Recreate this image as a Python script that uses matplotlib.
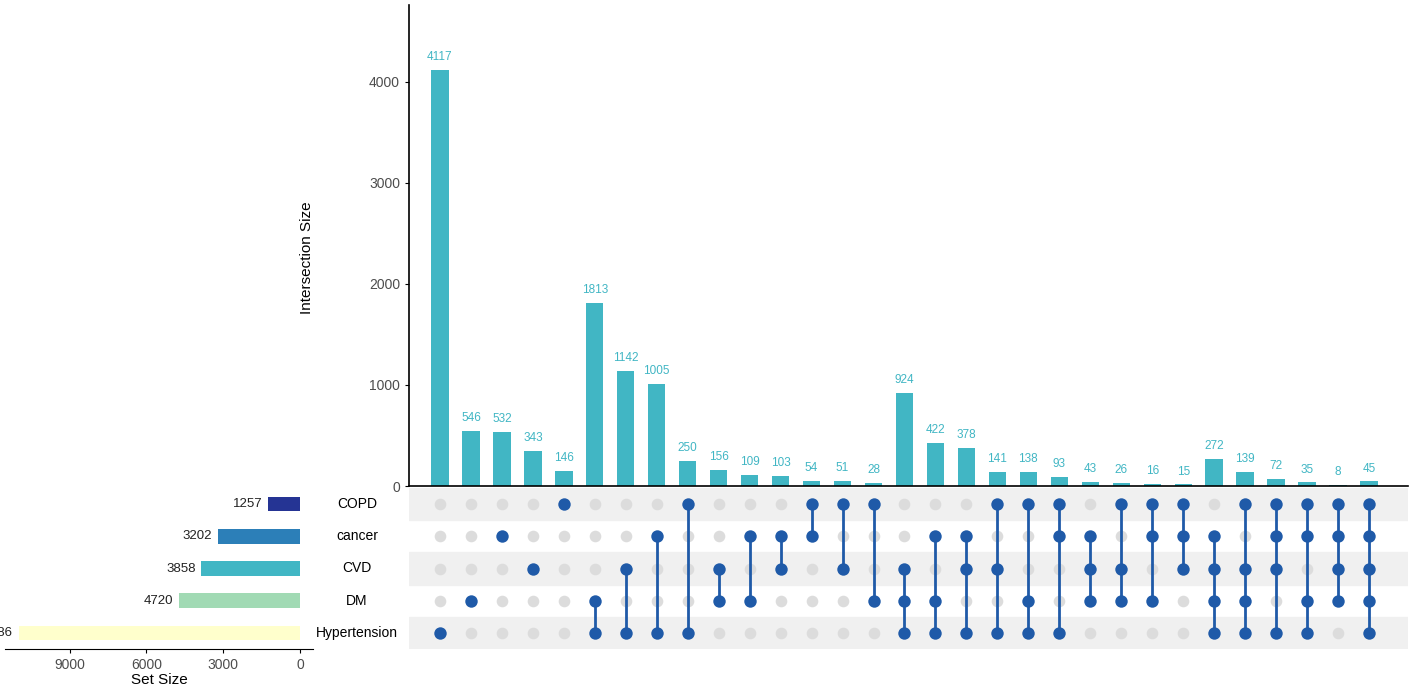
import matplotlib
matplotlib.use('Agg')
import matplotlib.pyplot as plt
from matplotlib.transforms import blended_transform_factory
import numpy as np

plt.rcParams['font.family'] = ['Liberation Sans', 'DejaVu Sans']

# sets, top to bottom in the matrix
set_names = ["COPD", "cancer", "CVD", "DM", "Hypertension"]
set_sizes = [1257, 3202, 3858, 4720, 10986]
set_colors = ["#253494", "#2c7fb8", "#41b6c4", "#a1dab4", "#ffffcc"]

# intersection sizes, left to right
inter_sizes = [4117, 546, 532, 343, 146, 1813, 1142, 1005, 250, 156, 109, 103,
               54, 51, 28, 924, 422, 378, 141, 138, 93, 43, 26, 16, 15,
               272, 139, 72, 35, 8, 45]

# members of each intersection
inter_sets = [
    ["Hypertension"], ["DM"], ["cancer"], ["CVD"], ["COPD"],
    ["DM", "Hypertension"], ["CVD", "Hypertension"], ["cancer", "Hypertension"],
    ["COPD", "Hypertension"], ["CVD", "DM"], ["cancer", "DM"], ["cancer", "CVD"],
    ["COPD", "cancer"], ["COPD", "CVD"], ["COPD", "DM"],
    ["CVD", "DM", "Hypertension"], ["cancer", "DM", "Hypertension"],
    ["cancer", "CVD", "Hypertension"], ["COPD", "CVD", "Hypertension"],
    ["COPD", "DM", "Hypertension"], ["COPD", "cancer", "Hypertension"],
    ["cancer", "CVD", "DM"], ["COPD", "CVD", "DM"], ["COPD", "cancer", "DM"],
    ["COPD", "cancer", "CVD"],
    ["cancer", "CVD", "DM", "Hypertension"], ["COPD", "CVD", "DM", "Hypertension"],
    ["COPD", "cancer", "CVD", "Hypertension"], ["COPD", "cancer", "DM", "Hypertension"],
    ["COPD", "cancer", "CVD", "DM"],
    ["COPD", "cancer", "CVD", "DM", "Hypertension"],
]

BAR_COLOR = "#41b6c4"
DOT_ON = "#1f5aa8"
DOT_OFF = "#dcdcdc"
TICK_COLOR = "#4d4d4d"

W, H = 1417, 697
fig = plt.figure(figsize=(W / 100, H / 100), dpi=100)

def px_axes(x0, y0, x1, y1):
    # pixel box (top-left origin) -> figure axes
    return fig.add_axes([x0 / W, 1 - y1 / H, (x1 - x0) / W, (y1 - y0) / H])

n = len(inter_sizes)
x = np.arange(n)
xlim = (-1.0, 31.26)
nrows = len(set_names)

# intersection bars
ax_bar = px_axes(409, 5, 1408, 486)
ax_bar.bar(x, inter_sizes, width=0.56, color=BAR_COLOR)
for xi, v in zip(x, inter_sizes):
    ax_bar.annotate(str(v), (xi, v), xytext=(0, 5), textcoords="offset points",
                    ha="center", va="bottom", fontsize=8.5, color=BAR_COLOR)
ax_bar.set_xlim(*xlim)
ax_bar.set_ylim(0, 4760)
ax_bar.set_xticks([])
ax_bar.set_yticks([0, 1000, 2000, 3000, 4000])
ax_bar.tick_params(axis="y", labelsize=10, labelcolor=TICK_COLOR, color="black", length=3)
for s in ["top", "right"]:
    ax_bar.spines[s].set_visible(False)
ax_bar.spines["left"].set_linewidth(1.2)
ax_bar.spines["bottom"].set_linewidth(1.2)
fig.text(307 / W, 1 - 258 / H, "Intersection Size", rotation=90,
         ha="center", va="center", fontsize=11)

# matrix
ax_mat = px_axes(409, 488, 1408, 649)
ax_mat.set_xlim(*xlim)
ax_mat.set_ylim(nrows - 0.5, -0.5)
for r in range(nrows):
    if r % 2 == 0:
        ax_mat.axhspan(r - 0.5, r + 0.5, color="#f0f0f0", zorder=0)
for xi, members in zip(x, inter_sets):
    rows = [set_names.index(m) for m in members]
    off = [r for r in range(nrows) if r not in rows]
    ax_mat.scatter([xi] * len(off), off, s=70, color=DOT_OFF, zorder=2, linewidths=0)
    if len(rows) > 1:
        ax_mat.plot([xi, xi], [min(rows), max(rows)], color=DOT_ON, lw=2, zorder=3)
    ax_mat.scatter([xi] * len(rows), rows, s=80, color=DOT_ON, zorder=4, linewidths=0)
ax_mat.axis("off")

# set size bars
ax_set = px_axes(5, 488, 313, 649)
ax_set.barh(np.arange(nrows), set_sizes, height=0.45, color=set_colors)
for r, v in enumerate(set_sizes):
    ax_set.annotate(str(v), (v, r), xytext=(-4, 0), textcoords="offset points",
                    ha="right", va="center", fontsize=9.5, color="#222222",
                    annotation_clip=False)
ax_set.set_ylim(nrows - 0.5, -0.5)
ax_set.set_xlim(11520, -510)
ax_set.set_xticks([9000, 6000, 3000, 0])
ax_set.set_yticks([])
ax_set.tick_params(axis="x", labelsize=10, labelcolor=TICK_COLOR, length=3)
for s in ["top", "right", "left"]:
    ax_set.spines[s].set_visible(False)
ax_set.set_xlabel("Set Size", fontsize=11, labelpad=1)

# set names
tr = blended_transform_factory(fig.transFigure, ax_mat.transData)
for r, name in enumerate(set_names):
    fig.text(357 / W, r, name, transform=tr, ha="center", va="center", fontsize=10)

fig.savefig("out.png", dpi=100)
